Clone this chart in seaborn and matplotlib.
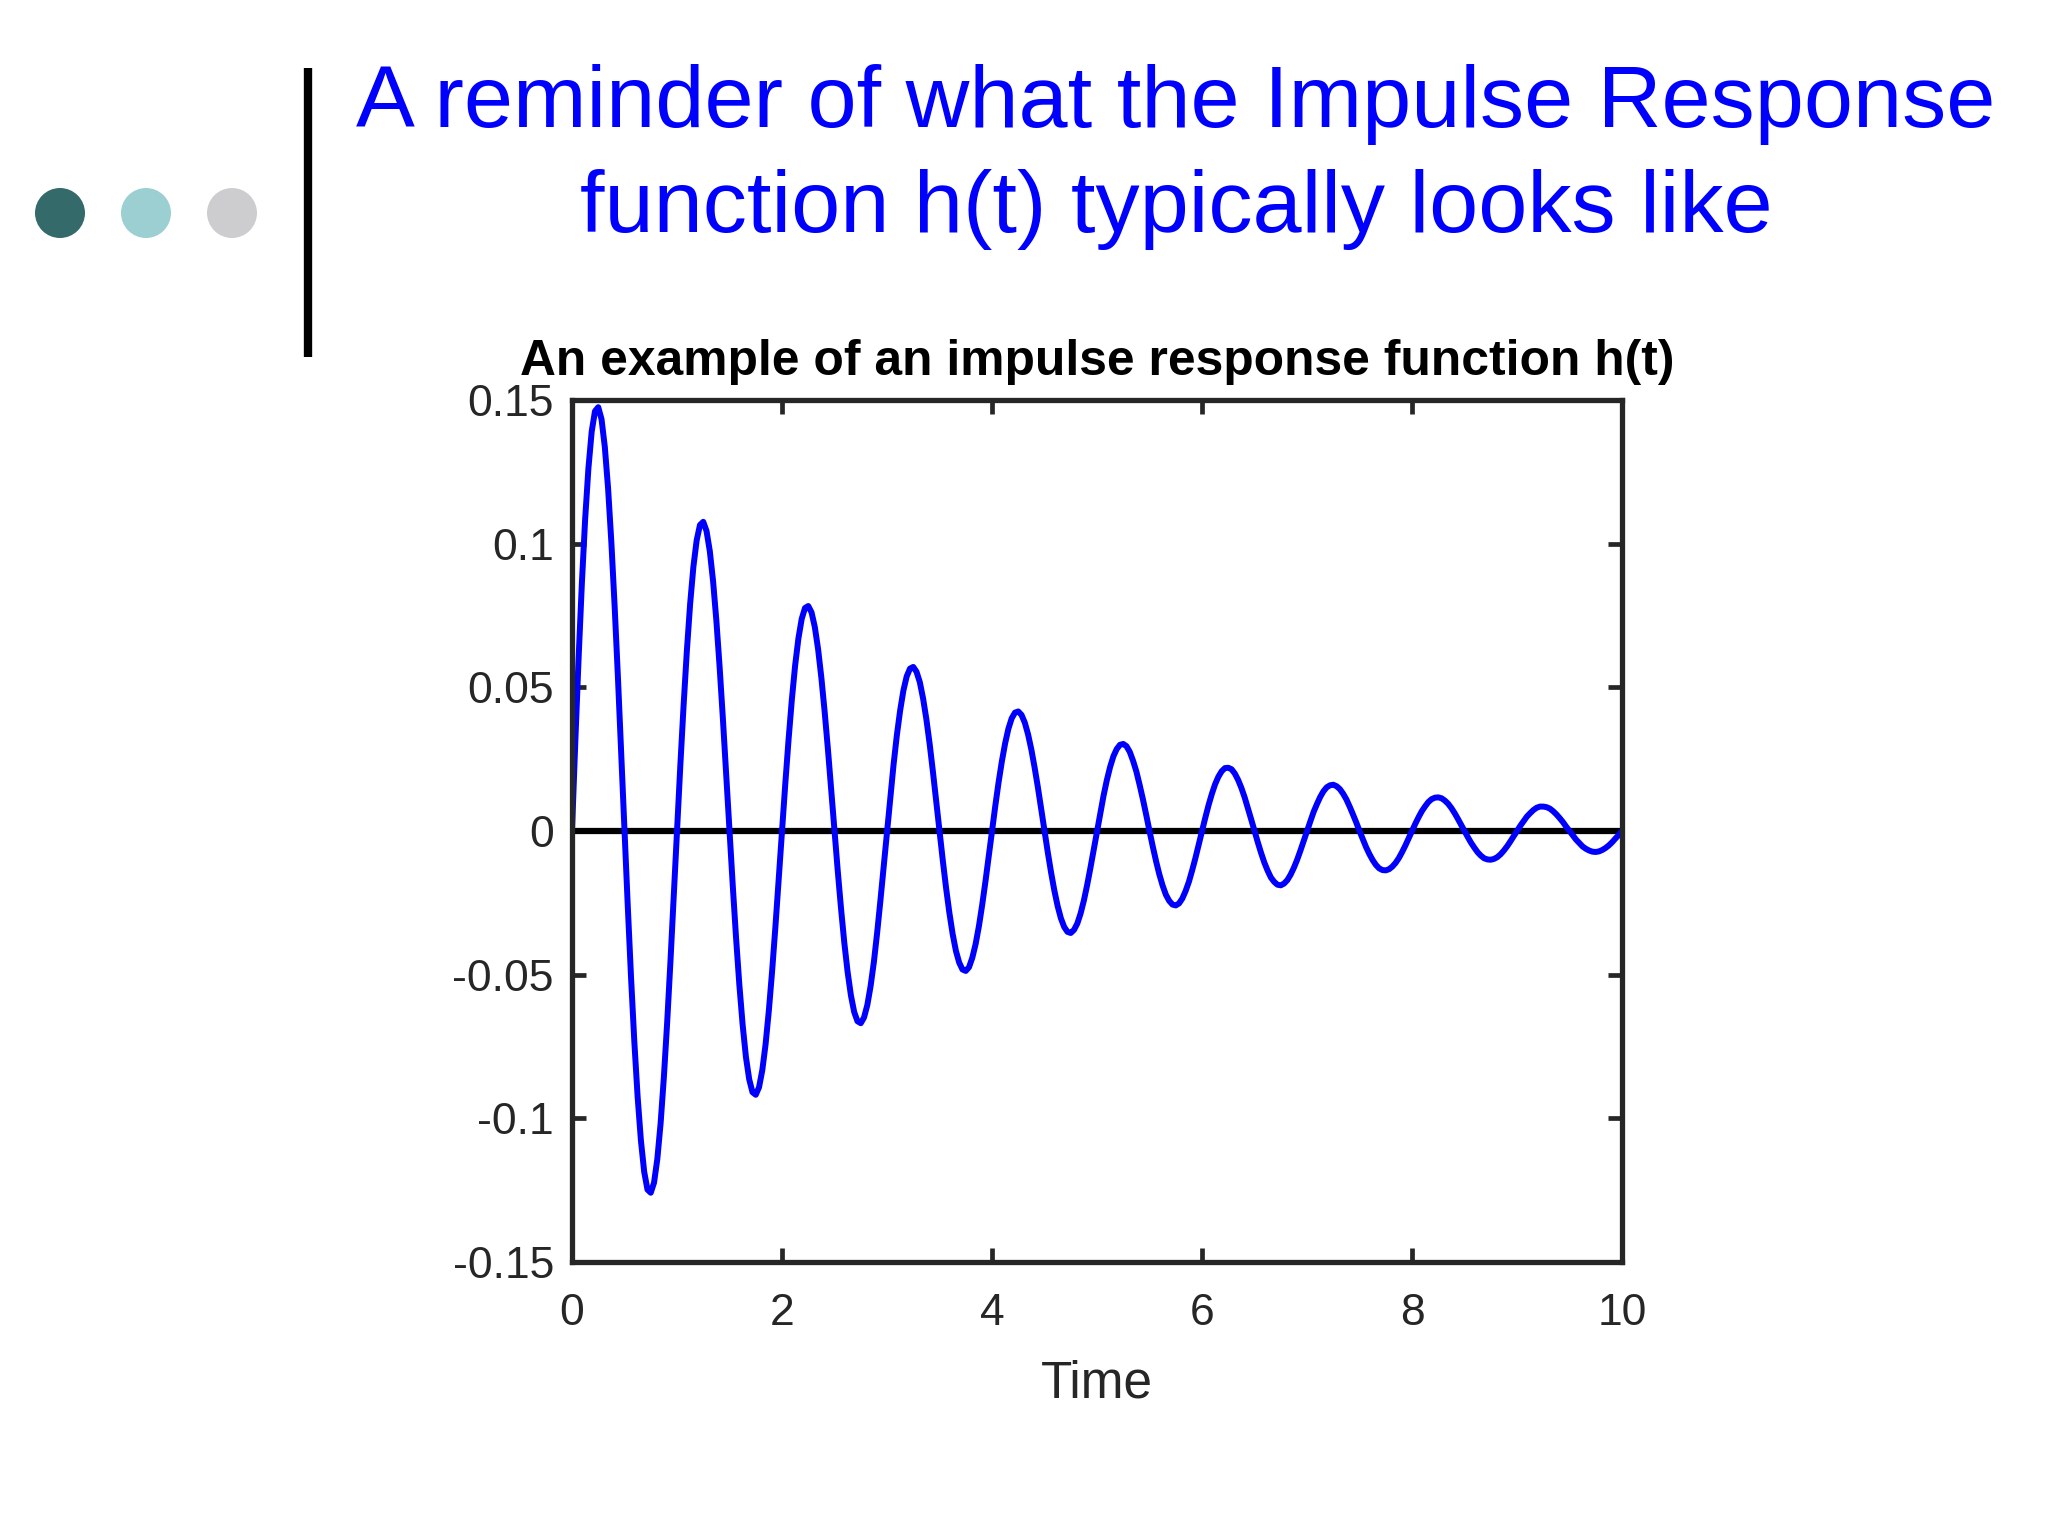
import numpy as np
import pandas as pd
import matplotlib
matplotlib.use("Agg")
import matplotlib.pyplot as plt
from matplotlib.patches import Ellipse
from matplotlib.lines import Line2D
import seaborn as sns

cycle_0 = [0.0000, 0.0308, 0.0598, 0.0860, 0.1084, 0.1262, 0.1390, 0.1461,
           0.1475, 0.1433, 0.1337, 0.1192, 0.1004, 0.0781, 0.0534, 0.0269,
           0.0000, -0.0262, -0.0511, -0.0734, -0.0925, -0.1077, -0.1186, -0.1248,
           -0.1259, -0.1224, -0.1142, -0.1018, -0.0857, -0.0667, -0.0455, -0.0230]
cycle_1 = [0.0000, 0.0225, 0.0435, 0.0626, 0.0790, 0.0920, 0.1012, 0.1065,
           0.1076, 0.1044, 0.0974, 0.0869, 0.0732, 0.0569, 0.0388, 0.0196,
           0.0000, -0.0191, -0.0372, -0.0535, -0.0674, -0.0786, -0.0864, -0.0909,
           -0.0918, -0.0892, -0.0832, -0.0742, -0.0624, -0.0486, -0.0332, -0.0168]
cycle_2 = [0.0000, 0.0164, 0.0318, 0.0457, 0.0576, 0.0670, 0.0738, 0.0776,
           0.0783, 0.0761, 0.0710, 0.0633, 0.0533, 0.0415, 0.0284, 0.0143,
           0.0000, -0.0140, -0.0271, -0.0390, -0.0491, -0.0572, -0.0630, -0.0662,
           -0.0669, -0.0649, -0.0606, -0.0540, -0.0456, -0.0354, -0.0241, -0.0122]
cycle_3 = [0.0000, 0.0120, 0.0231, 0.0333, 0.0419, 0.0489, 0.0538, 0.0565,
           0.0571, 0.0554, 0.0518, 0.0461, 0.0389, 0.0303, 0.0206, 0.0104,
           0.0000, -0.0102, -0.0198, -0.0284, -0.0358, -0.0417, -0.0458, -0.0482,
           -0.0487, -0.0474, -0.0441, -0.0394, -0.0332, -0.0258, -0.0176, -0.0089]
cycle_4 = [0.0000, 0.0087, 0.0169, 0.0242, 0.0305, 0.0356, 0.0392, 0.0412,
           0.0416, 0.0404, 0.0377, 0.0336, 0.0283, 0.0220, 0.0151, 0.0076,
           0.0000, -0.0074, -0.0144, -0.0207, -0.0261, -0.0304, -0.0334, -0.0351,
           -0.0355, -0.0344, -0.0322, -0.0287, -0.0242, -0.0188, -0.0128, -0.0065]
cycle_5 = [0.0000, 0.0063, 0.0123, 0.0177, 0.0223, 0.0260, 0.0285, 0.0300,
           0.0303, 0.0295, 0.0275, 0.0244, 0.0207, 0.0160, 0.0110, 0.0056,
           0.0000, -0.0054, -0.0105, -0.0151, -0.0190, -0.0222, -0.0243, -0.0256,
           -0.0259, -0.0252, -0.0235, -0.0209, -0.0177, -0.0137, -0.0094, -0.0047]
cycle_6 = [0.0000, 0.0046, 0.0090, 0.0129, 0.0163, 0.0189, 0.0208, 0.0219,
           0.0220, 0.0215, 0.0200, 0.0178, 0.0150, 0.0117, 0.0079, 0.0040,
           0.0000, -0.0039, -0.0076, -0.0110, -0.0138, -0.0162, -0.0177, -0.0187,
           -0.0189, -0.0183, -0.0171, -0.0152, -0.0128, -0.0100, -0.0068, -0.0034]
cycle_7 = [0.0000, 0.0033, 0.0066, 0.0093, 0.0118, 0.0138, 0.0152, 0.0159,
           0.0161, 0.0156, 0.0146, 0.0130, 0.0110, 0.0085, 0.0058, 0.0030,
           0.0000, -0.0028, -0.0056, -0.0080, -0.0101, -0.0118, -0.0130, -0.0136,
           -0.0137, -0.0133, -0.0124, -0.0111, -0.0094, -0.0073, -0.0050, -0.0025]
cycle_8 = [0.0000, 0.0025, 0.0048, 0.0069, 0.0086, 0.0101, 0.0111, 0.0116,
           0.0117, 0.0114, 0.0106, 0.0095, 0.0080, 0.0062, 0.0042, 0.0021,
           0.0000, -0.0021, -0.0041, -0.0058, -0.0074, -0.0086, -0.0095, -0.0099,
           -0.0100, -0.0097, -0.0091, -0.0081, -0.0068, -0.0053, -0.0036, -0.0018]
cycle_9 = [0.0000, 0.0018, 0.0034, 0.0050, 0.0062, 0.0073, 0.0081, 0.0085,
           0.0085, 0.0083, 0.0078, 0.0069, 0.0058, 0.0045, 0.0031, 0.0015,
           0.0000, -0.0015, -0.0030, -0.0042, -0.0054, -0.0062, -0.0068, -0.0072,
           -0.0073, -0.0071, -0.0066, -0.0059, -0.0050, -0.0039, -0.0026, -0.0014]
end_value = [0.0000]

response = (cycle_0 + cycle_1 + cycle_2 + cycle_3 + cycle_4 + cycle_5 +
            cycle_6 + cycle_7 + cycle_8 + cycle_9 + end_value)
time = np.linspace(0, 10, len(response))

x_ticks = [0, 2, 4, 6, 8, 10]
x_tick_labels = ["0", "2", "4", "6", "8", "10"]
y_ticks = [-0.15, -0.1, -0.05, 0, 0.05, 0.1, 0.15]
y_tick_labels = ["-0.15", "-0.1", "-0.05", "0", "0.05", "0.1", "0.15"]

slide_title_lines = ["A reminder of what the Impulse Response",
                     "function h(t) typically looks like"]
chart_title = "An example of an impulse response function h(t)"
x_label = "Time"

df = pd.DataFrame({"Time": time, "h": response})

# ---- style ----
sns.set_theme(style="white")
plt.rcParams["font.family"] = ["Liberation Sans", "DejaVu Sans"]

W, H = 2048, 1536
fig = plt.figure(figsize=(W / 100, H / 100), dpi=100, facecolor="white")

# decorative dots
dot_colors = ["#356a6a", "#9ccfd1", "#cdcdcf"]
for cx, col in zip([60, 146, 232], dot_colors):
    fig.add_artist(Ellipse((cx / W, 1 - 213 / H), 50 / W, 50 / H,
                           transform=fig.transFigure, facecolor=col,
                           edgecolor="none"))
# vertical bar
fig.add_artist(Line2D([308 / W, 308 / W], [1 - 68 / H, 1 - 357 / H],
                      transform=fig.transFigure, color="black", lw=6,
                      solid_capstyle="butt"))

# slide title
fig.text(1176 / W, 1 - 127 / H, slide_title_lines[0], color="#0000ff",
         fontsize=63.5, ha="center", va="baseline")
fig.text(1176 / W, 1 - 232 / H, slide_title_lines[1], color="#0000ff",
         fontsize=63.5, ha="center", va="baseline")

# chart axes
ax = fig.add_axes([572 / W, 1 - 1262 / H, 1050 / W, 862 / H])
ax.axhline(0, color="black", linewidth=4.5, zorder=1)
sns.lineplot(data=df, x="Time", y="h", ax=ax, color="#0000ff", linewidth=4.3,
             estimator=None, sort=False, zorder=2)

ax.set_xlim(0, 10)
ax.set_ylim(-0.15, 0.15)
ax.set_xticks(x_ticks)
ax.set_xticklabels(x_tick_labels)
ax.set_yticks(y_ticks)
ax.set_yticklabels(y_tick_labels)
ax.set_ylabel("")
ax.set_xlabel(x_label, fontsize=37, color="#262626", labelpad=19)
ax.set_title(chart_title, fontsize=35.8, fontweight="bold", color="black", pad=18)

for s in ax.spines.values():
    s.set_visible(True)
    s.set_color("#262626")
    s.set_linewidth(3.8)

ax.tick_params(axis="both", which="major", direction="in", length=10,
               width=3.4, color="#262626", labelsize=32, labelcolor="#262626",
               top=True, right=True, bottom=True, left=True)
ax.tick_params(axis="x", pad=22)
ax.tick_params(axis="y", pad=13)
ax.grid(False)
ax.set_facecolor("white")

fig.savefig("out.png", dpi=100, facecolor="white")
